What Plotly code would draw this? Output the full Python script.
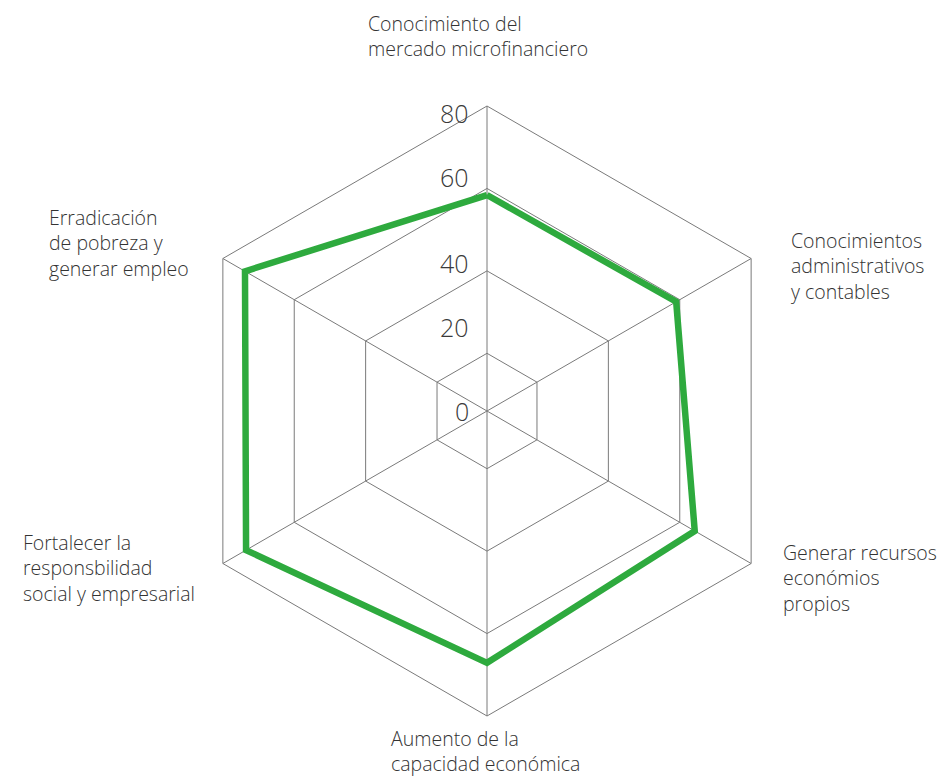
import plotly.graph_objects as go

# axes (clockwise from the top)
categories = [
    "Conocimiento del<br>mercado microfinanciero",
    "Conocimientos<br>administrativos<br>y contables",
    "Generar recursos<br>económios<br>propios",
    "Aumento de la<br>capacidad económica",
    "Fortalecer la<br>responsbilidad<br>social y empresarial",
    "Erradicación<br>de pobreza y<br>generar empleo",
]
values = [58.4, 59.0, 64.2, 67.1, 73.5, 73.8]

grid_vals = [20, 40, 60, 80]
tick_labels = ["0", "20", "40", "60", "80"]

# the page body adds an 8px margin, so the figure is sized and laid out for that
OFF = 8
W, H = 946 - OFF, 776 - OFF
FONT = "Open Sans"
GREEN = "#2eaa3e"
GRID = "#7a7a7a"


def px(x):
    return (x - OFF) / W


def py(y):
    return 1 - (y - OFF) / H


fig = go.Figure()
fig.add_trace(
    go.Scatterpolar(
        r=values + values[:1],
        theta=categories + categories[:1],
        mode="lines",
        line=dict(color=GREEN, width=6.5),
        hoverinfo="skip",
        showlegend=False,
    )
)

fig.update_layout(
    width=W,
    height=H,
    paper_bgcolor="white",
    plot_bgcolor="white",
    margin=dict(l=0, r=0, t=0, b=0),
    font=dict(family=FONT, size=19.5, color="#333333", weight=300),
    polar=dict(
        domain=dict(x=[px(182), px(792)], y=[py(716), py(106)]),
        gridshape="linear",
        bgcolor="white",
        radialaxis=dict(
            range=[6, 80],
            tickvals=grid_vals,
            showticklabels=False,
            ticks="",
            showline=False,
            gridcolor=GRID,
            gridwidth=1,
            angle=90,
        ),
        angularaxis=dict(
            direction="clockwise",
            rotation=90,
            showticklabels=False,
            ticks="",
            showline=True,
            linecolor=GRID,
            linewidth=1,
            gridcolor=GRID,
            gridwidth=1,
        ),
    ),
)

# category labels, placed like the original layout
label_pos = [(366, 36), (789, 266), (781, 578), (389, 751), (21, 568), (47, 243)]
for text, (x, y) in zip(categories, label_pos):
    fig.add_annotation(
        text=text, xref="paper", yref="paper", x=px(x), y=py(y),
        xanchor="left", yanchor="middle", align="left", showarrow=False,
        font=dict(family=FONT, size=19.5, color="#333333", weight=300),
    )

# scale labels on the vertical axis
tick_y = [411, 327, 263, 177, 113]
for text, y in zip(tick_labels, tick_y):
    fig.add_annotation(
        text=text, xref="paper", yref="paper", x=px(471), y=py(y),
        xanchor="right", yanchor="middle", showarrow=False,
        font=dict(family=FONT, size=25, color="#3a3a3a", weight=300),
    )

fig.write_html("out.html")
